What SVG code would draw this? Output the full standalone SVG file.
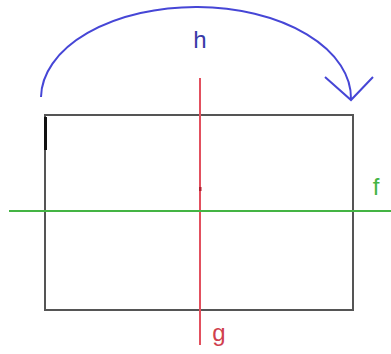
<svg xmlns="http://www.w3.org/2000/svg" width="391" height="354" viewBox="0 0 391 354">
<style>
.lbl{font-family:"Liberation Sans",Arial,sans-serif;font-size:24px}
</style>
<rect width="391" height="354" fill="#ffffff"/>
<g id="rect">
<rect x="45" y="115" width="308" height="195" fill="none" stroke="#555555" stroke-width="2"/>
<line x1="45.5" y1="117" x2="45.5" y2="150" stroke="#111111" stroke-width="3"/>
</g>
<g id="connectors">
<line id="g-line" x1="200" y1="78" x2="200" y2="345" stroke="#e2505e" stroke-width="2"/>
<rect x="199" y="187" width="2.5" height="4" fill="#b02030"/>
<line id="f-line" x1="9" y1="211" x2="391" y2="211" stroke="#44b444" stroke-width="2"/>
<path id="h-arc" d="M41,97 A155,91 0 0 1 351,99" fill="none" stroke="#4646d6" stroke-width="2"/>
<polyline points="325,77 351,100 373,77" fill="none" stroke="#4646d6" stroke-width="2"/>
</g>
<g id="labels">
<text class="lbl" x="200" y="48" text-anchor="middle" fill="#3a3aa8">h</text>
<text class="lbl" x="376" y="195" text-anchor="middle" fill="#44b444">f</text>
<text class="lbl" x="219" y="341" text-anchor="middle" fill="#d0404e">g</text>
</g>
</svg>
